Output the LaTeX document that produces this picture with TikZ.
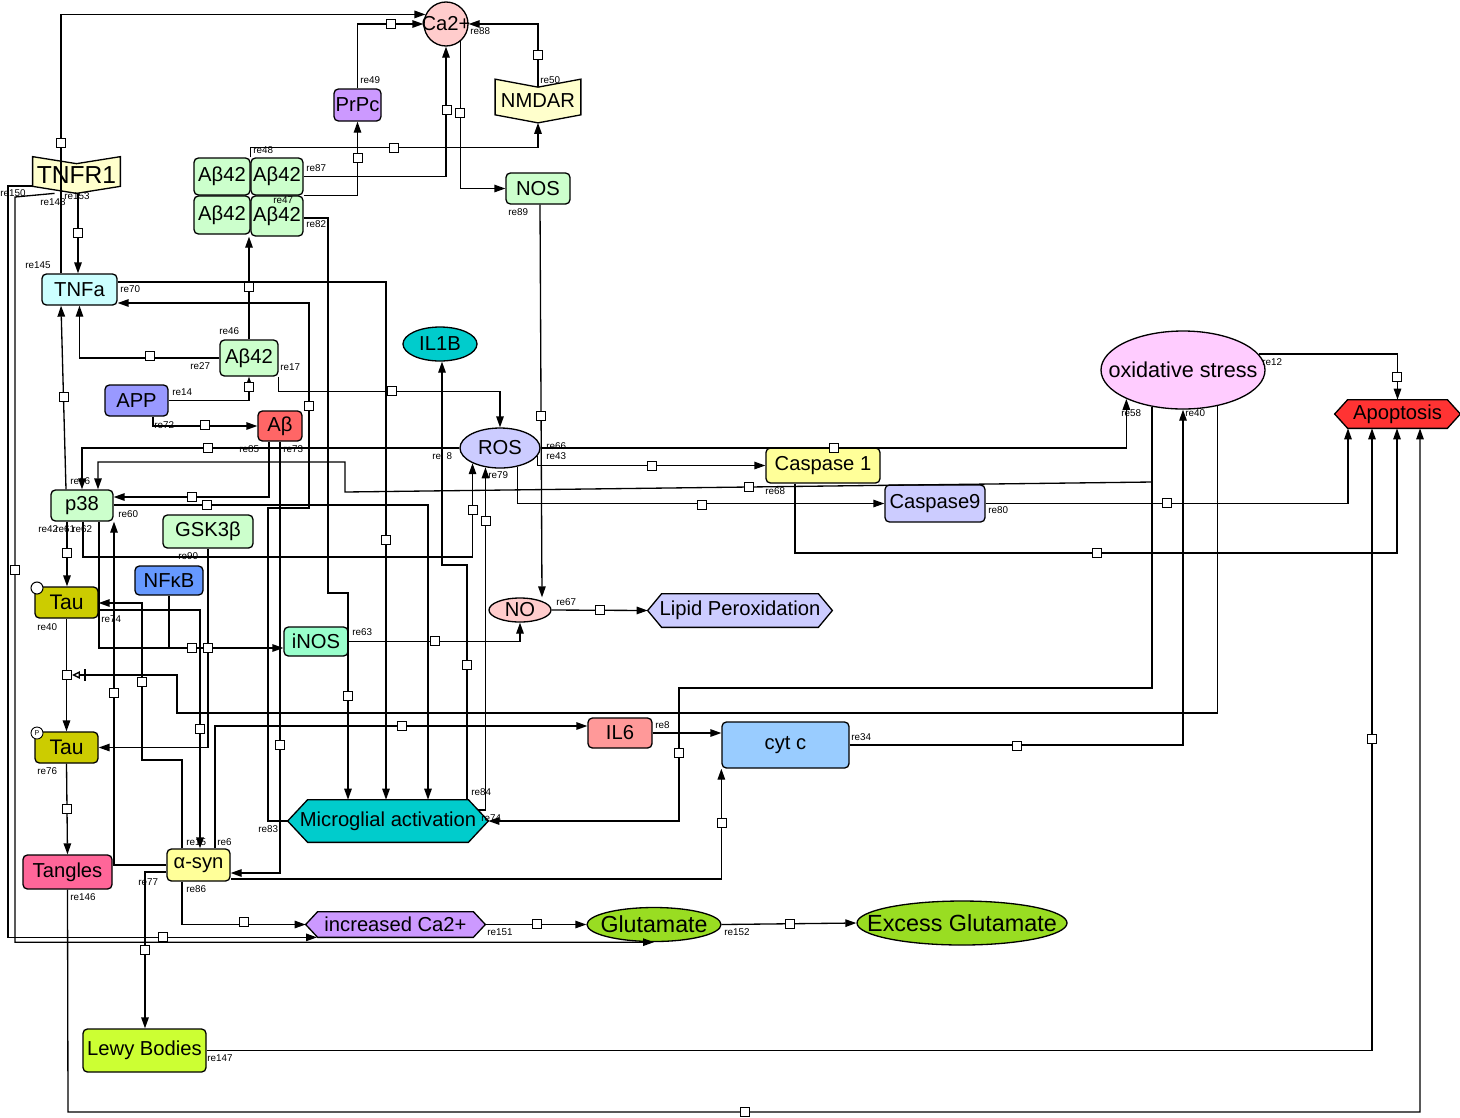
\documentclass[tikz,border=0pt]{standalone}
\usepackage{fontspec}
\setmainfont{Liberation Sans}
\usetikzlibrary{shapes.geometric,arrows.meta,backgrounds,calc}
\def\pxu{0.02cm}
\newcommand\nodefnt{\fontsize{11.5}{13}\selectfont}
\newcommand\labfnt{\fontsize{5.6}{6}\selectfont}
\newcommand\hexshape[3]{\fill[#2, draw=black, line width=0.75pt] (#1.west) -- ([xshift=#3]#1.north west) -- ([xshift=-#3]#1.north east) -- (#1.east) -- ([xshift=-#3]#1.south east) -- ([xshift=#3]#1.south west) -- cycle;}
\newcommand\recshape[3]{\fill[#2, draw=black, line width=0.75pt] (#1.north west) -- ([yshift=-#3]#1.north) -- (#1.north east) -- ([yshift=#3]#1.south east) -- (#1.south) -- ([yshift=#3]#1.south west) -- cycle;}
\definecolor{cPink}{HTML}{FFCCCC}
\definecolor{cPurp}{HTML}{CC99FF}
\definecolor{cRecep}{HTML}{FFFFCC}
\definecolor{cGreen}{HTML}{CCFFCC}
\definecolor{cCyanL}{HTML}{CCFFFF}
\definecolor{cTeal}{HTML}{00CCCC}
\definecolor{cApp}{HTML}{9999FF}
\definecolor{cAb}{HTML}{FF6666}
\definecolor{cLav}{HTML}{CCCCFF}
\definecolor{cOx}{HTML}{FFCCFF}
\definecolor{cApop}{HTML}{FF3333}
\definecolor{cYel}{HTML}{FFFF99}
\definecolor{cNfkb}{HTML}{6699FF}
\definecolor{cTau}{HTML}{CCCC00}
\definecolor{cInos}{HTML}{99FFCC}
\definecolor{cIlsix}{HTML}{FF9999}
\definecolor{cCyt}{HTML}{99CCFF}
\definecolor{cTang}{HTML}{FF6699}
\definecolor{cGlu}{HTML}{99DD22}
\definecolor{cLewy}{HTML}{CCFF33}
\tikzset{
 base/.style={draw, line width=0.75pt, inner sep=0pt, font=\nodefnt},
 box/.style 2 args={base, rectangle, rounded corners=2.5pt, minimum width=#1*\pxu, minimum height=#2*\pxu},
 ell/.style 2 args={base, ellipse, minimum width=#1*\pxu, minimum height=#2*\pxu},
 plain/.style 2 args={rectangle, inner sep=0pt, font=\nodefnt, minimum width=#1*\pxu, minimum height=#2*\pxu},
 ln/.style={line width=0.75pt},
 arr/.style={ln, -{Triangle[length=0.22cm,width=0.15cm]}},
 sq/.style={draw, fill=white, rectangle, minimum size=0.17cm, inner sep=0pt, line width=0.6pt},
 lab/.style={font=\labfnt, anchor=west, inner sep=0pt},
}
\begin{document}
\begin{tikzpicture}[x=0.02cm,y=-0.02cm]
\useasboundingbox (0,0) rectangle (1460,1117);
% ---------- entities ----------
\node[base, circle, minimum size=44*\pxu, fill=cPink] (ca2) at (446,24) {\makebox[0pt]{Ca2+}};
\node[box={47}{32}, fill=cPurp] (prpc) at (357.5,105) {PrPc};
\node[plain={85}{43}] (nmdar) at (538,101) {NMDAR};
\node[box={64}{31}, fill=cGreen] (nos) at (538,188.5) {NOS};
\node[plain={87}{36}, font=\fontsize{14}{15}\selectfont] (tnfr1) at (76.5,175) {TNFR1};
\node[box={56}{37}, fill=cGreen] (a1) at (222,176.5) {Aβ42};
\node[box={52}{37}, fill=cGreen] (a2) at (277,176.5) {Aβ42};
\node[box={56}{38}, fill=cGreen] (a3) at (222,215) {Aβ42};
\node[box={52}{40}, fill=cGreen] (a4) at (277,216) {Aβ42};
\node[box={75}{31}, fill=cCyanL] (tnfa) at (79.5,289.5) {TNFa};
\node[box={58}{36}, fill=cGreen] (ab42) at (249,358) {Aβ42};
\node[ell={74}{34}, fill=cTeal] (il1b) at (440,344) {\makebox[0pt]{IL1B}};
\node[box={63}{31}, fill=cApp] (app) at (136.5,400.5) {APP};
\node[box={44}{30}, fill=cAb] (ab) at (280,426) {Aβ};
\node[ell={80}{40}, fill=cLav] (ros) at (500,448) {\makebox[0pt]{ROS}};
\node[ell={164}{78}, fill=cOx, font=\fontsize{12.3}{13}\selectfont] (ox) at (1183,370) {\makebox[0pt]{oxidative stress}};
\node[plain={125}{28}] (apop) at (1397.5,414) {Apoptosis};
\node[box={114}{35}, fill=cYel] (casp1) at (823,465.5) {Caspase 1};
\node[box={100}{37}, fill=cLav] (casp9) at (935,503.5) {Caspase9};
\node[box={62}{31}, fill=cGreen] (p38) at (82,505.5) {p38};
\node[box={90}{33}, fill=cGreen] (gsk) at (208,531.5) {GSK3β};
\node[box={68}{29}, fill=cNfkb] (nfkb) at (169,580.5) {NFκB};
\node[box={63}{31}, fill=cTau, font=\fontsize{12}{13}\selectfont] (tau1) at (66.5,602.5) {Tau};
\node[box={64}{29}, fill=cInos] (inos) at (316,641.5) {iNOS};
\node[ell={62}{24}, fill=cPink] (no) at (520,610) {\makebox[0pt]{NO}};
\node[plain={184}{33}] (lipid) at (740,610.5) {Lipid Peroxidation};
\node[box={63}{31}, fill=cTau, font=\fontsize{12}{13}\selectfont] (tau2) at (66.5,747.5) {Tau};
\node[box={64}{30}, fill=cIlsix] (il6) at (620,733) {IL6};
\node[box={127}{46}, fill=cCyt] (cytc) at (785.5,745) {cyt c};
\node[plain={200}{42}] (micro) at (388,821) {Microglial activation};
\node[box={89}{34}, fill=cTang] (tangles) at (67.5,872) {Tangles};
\node[box={63}{32}, fill=cYel] (asyn) at (198.5,865) {α-syn};
\node[plain={179}{25}] (inca) at (395.5,924.5) {increased Ca2+};
\node[ell={134}{34}, fill=cGlu, font=\fontsize{13.2}{14}\selectfont] (glu) at (654,924.5) {\makebox[0pt]{Glutamate}};
\node[ell={210}{44}, fill=cGlu, font=\fontsize{13.3}{14}\selectfont] (exglu) at (962,923) {\makebox[0pt]{Excess Glutamate}};
\node[box={123}{43}, fill=cLewy] (lewy) at (144.5,1050.5) {Lewy Bodies};
\node[draw, circle, fill=white, minimum size=12*\pxu, inner sep=0pt, line width=0.6pt] (st1) at (37,588) {};
\node[draw, circle, fill=white, minimum size=12*\pxu, inner sep=0pt, line width=0.5pt, font=\fontsize{4}{4}\selectfont] (st2) at (37,733) {P};
\begin{scope}[on background layer]
\fill[white] (0,0) rectangle (1460,1117);
\recshape{tnfr1}{cRecep}{0.14cm}
\recshape{nmdar}{cRecep}{0.16cm}
\hexshape{apop}{cApop}{0.26cm}
\hexshape{lipid}{cLav}{0.28cm}
\hexshape{micro}{cTeal}{0.4cm}
\hexshape{inca}{cPurp}{0.24cm}
\end{scope}
% ---------- connectors ----------
\draw[arr] (61,0 |- tnfa.north) -- (61,0 |- ca2.155) -- (ca2.155);
\draw[arr] (78,0 |- tnfr1.south) -- (78,0 |- tnfa.north);
\draw[arr] (prpc.north) |- (ca2.west);
\draw[arr] ([yshift=-0.15cm]nmdar.north) |- (ca2.east);
\draw[arr] (ca2.-50) |- (nos.west);
\draw[arr] (a2.east) -| (ca2.south);
\draw[arr] (a4.north east) -| (prpc.south);
\draw[arr] (a1.north east) -- ++(0,-10) -| (nmdar.south);
\draw[arr] (a4.east |- 0,218) -- (328,218) -- (328,593) -- (348,593) -- (348,0 |- micro.north);
\draw[arr] (ab42.north) -- (ab42.north |- a4.south);
\draw[arr] (ab42.west) -| (tnfa.south);
\draw[arr] (app.east) -| (ab42.south);
\draw[arr] (153,0 |- app.south) |- (ab.west);
\draw[arr] (ab42.south east) -- ++(0,15) -| (ros.north);
\draw[arr] (tnfa.east |- 0,282) -| (386,0 |- micro.north);
\draw[arr] (66,0 |- p38.north) -- (61,0 |- tnfa.south);
\draw[arr] (micro.west) -- (268,0 |- micro.west) -- (268,508) -- (309,508) -- (309,303) -- (tnfa.east |- 0,303);
\draw[arr] (p38.east |- 0,505) -- (428,505) -- (428,0 |- micro.north);
\draw[arr] (269,0 |- ab.south) |- (p38.east |- 0,497);
\draw[arr] (280,0 |- ab.south) |- (asyn.east |- 0,873);
\draw[arr] (ros.west) -| (82,0 |- p38.north);
\draw[arr] (ox.230) -- (ox.230 |- 0,482) -- (345,492) -- (345,462) -- (98,462) -- (98,0 |- p38.north);
\draw[arr] (ox.230) -- (ox.230 |- 0,688) -- (679,688) -- (679,0 |- micro.east) -- (micro.east);
\draw[arr] (83,0 |- p38.south) -- (83,557) -| (ros.209);
\draw[arr] ($(micro.east)+(-10,-11)$) -| (ros.233);
\draw[arr] (467,0 |- micro.north) -- (467,565) -- (442,565) -- (442,0 |- il1b.south);
\draw[arr] (ros.east) -- (ox.207 |- ros.east) -- (ox.207);
\draw[arr] (ros.-12) |- (casp1.west);
\draw[arr] (ros.-47) |- (casp9.west);
\draw[arr] (540,0 |- nos.south) -- (542,0 |- no.north);
\draw[arr] (inos.east) -| (no.south);
\draw[arr] (no.east) -- (lipid.west);
\draw[arr] (il6.east) -- (cytc.west |- il6.east);
\draw[arr] (215,0 |- asyn.north) |- (il6.west |- 0,726);
\draw[arr] (asyn.east |- 0,879) -| (cytc.south west);
\draw[arr] (cytc.east) -| (ox.south);
\draw[arr] (795,0 |- casp1.south) -- (795,553) -| (1397,0 |- apop.south);
\draw[arr] (casp9.east) -| (1348,0 |- apop.south);
\draw[arr] (ox.12) -| (apop.north);
\draw[arr] (tangles.south) -- (68,1112) -| (1420,0 |- apop.south);
\draw[arr] (lewy.east) -| (1372,0 |- apop.south);
\draw[arr] (asyn.west |- 0,872) -| (145,0 |- lewy.north);
\draw[arr] (182,0 |- asyn.south) |- (inca.west);
\draw[arr] (inca.east) -- (glu.west);
\draw[arr] (glu.east) -- (exglu.west);
\draw[arr] (tau1.south) -- (tau2.north);
\draw[arr] (tau2.south) -- (tangles.north);
\draw[arr] (67,0 |- p38.south) -- (67,0 |- tau1.north);
\draw[arr] (99,0 |- p38.south) |- (inos.west |- 0,648);
\draw[ln] (nfkb.south) -- (nfkb.south |- 0,648);
\draw[arr] (208,0 |- gsk.south) |- (tau2.east);
\draw[arr] (tau1.east |- 0,610) -| (200,0 |- asyn.north);
\draw[arr] (182,0 |- asyn.north) -- (182,760) -- (142,760) |- (tau1.east |- 0,603);
\draw[arr] (asyn.west |- 0,865) -| (114,0 |- p38.south);
\draw[ln, -{Triangle[open,length=0.16cm,width=0.15cm]}] (ox.-46) -- (ox.-46 |- 0,713) -- (177,713) -- (177,675) -- (72,675);
\draw[ln] (85,669) -- (85,681);
\draw[arr] (tnfr1.west |- 0,186) -- (8,186) |- (317,0 |- inca.south);
\draw[arr] ([xshift=-0.44cm]tnfr1.south) -- (15,197) |- (glu.south);
% ---------- reaction squares ----------
\foreach \x/\y [count=\i] in {61/143, 78/233, 391/24, 538/55, 460/113, 447/110, 358/158, 394/148, 249/287, 150/356, 249/387, 205/425, 392/391, 386/540, 64/397, 309/406, 207/505, 192/497, 280/745, 208/448, 749/487, 473/510, 67/553, 192/648, 208/648, 142/682, 200/729, 114/693, 402/726, 722/823, 145/950, 244/922, 537/924, 790/924, 67/675, 67/809, 745/1112, 1372/739, 679/753, 1017/746, 834/448, 652/466, 702/505, 541/416, 435/641, 600/610, 467/665, 486/521, 1097/553, 1167/503, 1397/377, 163/937, 15/570, 348/696}
  \node[sq] (sq\i) at (\x,\y) {};
% ---------- reaction labels ----------
\foreach \x/\y/\t [count=\i] in {470/31/re88, 360/80/re49, 540/80/re50, 253/150/re48, 306/168/re87, 273/200/re47, 306/224/re82, 508/212/re89, 0/193/re150, 40/202/re148, 64/196/re153, 25/265/re145, 120/289/re70, 219/331/re46, 190/366/re27, 280/367/re17, 172/392/re14, 154/425/re72, 239/449/re85, 283/449/re73, 432/456/re\phantom{5}8, 546/446/re66, 546/456/re43, 488/475/re79, 70/481/re16, 38/529/re42, 55/529/re61, 72/529/re62, 118/514/re60, 178/556/re90, 37/627/re40, 101/619/re74, 352/632/re63, 556/602/re67, 37/771/re76, 655/725/re8, 851/737/re34, 471/792/re84, 481/818/re74, 258/829/re83, 186/842/re15, 217/842/re6, 138/882/re77, 186/889/re86, 70/897/re146, 487/932/re151, 724/932/re152, 207/1058/re147, 1262/362/re12, 1121/413/re58, 1185/413/re40, 765/491/re68, 988/510/re80}
  \node[lab] (lb\i) at (\x,\y) {\t};
\end{tikzpicture}
\end{document}
